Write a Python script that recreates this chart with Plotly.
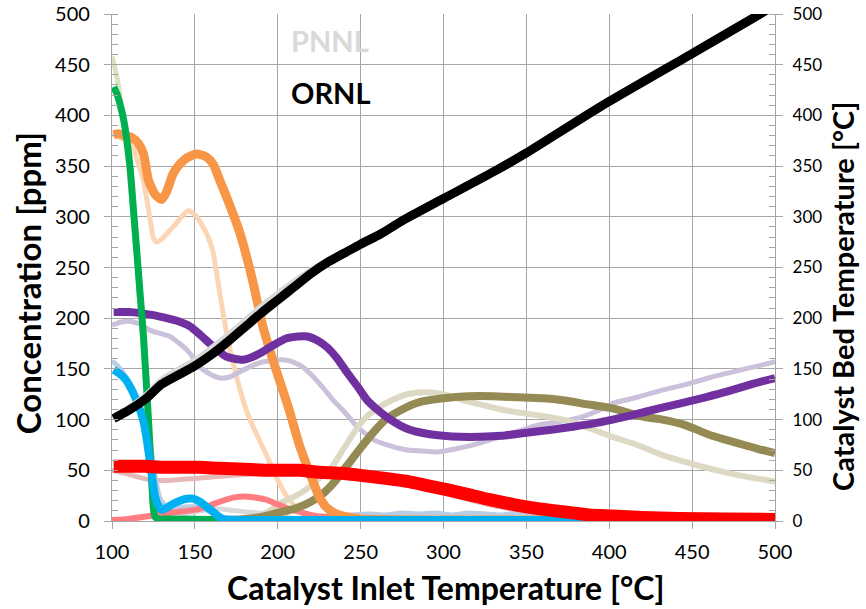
import plotly.graph_objects as go

# ---------------- data ----------------
# ORNL (thick) series
green_x = [101, 103, 105, 107, 109, 111, 113, 115, 117, 119, 120, 121, 122, 123, 124, 125, 126, 128, 135, 160, 200, 300, 400, 500]
green_y = [428, 421, 410, 396, 375, 347, 306, 265, 223, 182, 155, 128, 100, 70, 38, 12, 4, 2, 2, 1.5, 1, 1, 1, 1]

orange_x = [101, 104, 108, 112, 116, 119, 122, 126, 130, 133, 137, 141, 145, 151, 157, 161, 165, 169, 173, 177, 181, 185, 191, 199, 207, 213, 217, 221, 225, 229, 233, 237, 242, 250, 300, 400, 500]
orange_y = [381, 382, 380, 378, 372, 362, 336, 322, 317, 325, 343, 352, 358, 362, 359, 352, 336, 320, 303, 285, 262, 236, 192, 149, 109, 75, 57, 40, 24, 14, 9, 6, 4, 2, 1, 1, 1]

purple_x = [101, 110, 117, 125, 133, 140, 147, 153, 159, 164, 169, 174, 179, 185, 191, 198, 205, 212, 218, 224, 230, 236, 242, 248, 254, 260, 268, 278, 290, 300, 310, 322, 335, 350, 365, 378, 390, 402, 415, 430, 443, 458, 472, 486, 500]
purple_y = [206, 206, 205, 203, 200, 197, 192, 184, 175, 168, 162, 160, 159, 162, 167, 174, 180, 182, 182, 178, 171, 160, 146, 133, 119, 110, 100, 91, 86, 84, 83, 83, 84, 87, 90, 93, 96, 100, 105, 111, 116, 122, 128, 135, 141]

cyan_x = [101, 104, 108, 111, 114, 117, 119, 121, 123, 124.5, 126, 128, 130, 133, 137, 141, 145, 149, 153, 157, 161, 164, 167, 170, 180, 200, 300, 400, 500]
cyan_y = [149, 146, 140, 132, 122, 109, 98, 80, 57, 40, 24, 15, 11, 13, 17, 20, 22, 22, 19, 14, 9, 5, 2, 1.5, 1, 1, 1, 1, 1]

olive_x = [170, 180, 190, 200, 210, 220, 228, 235, 242, 250, 258, 265, 275, 285, 300, 315, 330, 345, 360, 372, 387, 402, 420, 432, 445, 462, 477, 490, 500]
olive_y = [1, 2, 4, 8, 12, 19, 28, 40, 55, 72, 88, 100, 110, 117, 121, 123, 123, 122, 121, 119, 115, 111, 103, 100, 95, 84, 77, 71, 67]

red_x = [101, 110, 120, 130, 140, 153, 165, 180, 195, 213, 225, 238, 250, 265, 278, 290, 302, 315, 328, 343, 358, 373, 388, 402, 420, 442, 470, 500]
red_y = [54, 54, 54, 53, 53, 53, 52, 51, 50, 50, 48, 47, 45, 42, 39, 35, 31, 26, 21, 16, 12, 9, 6, 5, 3.5, 2.5, 2, 1.5]

salmon_x = [100, 110, 123, 135, 145, 153, 160, 167, 173, 177, 182, 187, 193, 199, 205, 209, 215, 223, 230, 238, 250, 270, 300]
salmon_y = [1, 2, 5, 8, 10, 12, 16, 20, 23, 24, 24, 23, 21, 17, 13, 11, 8, 5, 4, 3, 2, 1, 1]

bed_x = [101, 110, 120, 130, 140, 150, 160, 170, 180, 190, 200, 210, 220, 230, 240, 250, 262, 275, 300, 332, 350, 394, 450, 491, 500]
bed_y = [101, 109, 120, 135, 144, 153, 164, 177, 191, 205, 218, 231, 244, 255, 264, 273, 283, 296, 318, 346, 363, 408, 461, 500, 509]

# PNNL (thin, light) series
lgreen_x = [100, 102, 104, 106, 108, 110, 112, 114, 116, 118, 120, 122, 124, 126, 130, 500]
lgreen_y = [458, 445, 428, 405, 380, 350, 315, 275, 232, 190, 145, 95, 45, 10, 1, 1]

peach_x = [100, 104, 108, 113, 116, 119, 121, 123, 125, 127, 130, 134, 138, 142, 146, 150, 155, 158, 161, 164, 167, 170, 174, 178, 182, 186, 190, 194, 198, 202, 206, 210, 214, 220, 230, 250, 300, 500]
peach_y = [382, 379, 375, 366, 352, 335, 317, 297, 279, 275, 278, 285, 292, 300, 306, 302, 290, 280, 265, 235, 205, 178, 150, 125, 105, 90, 76, 62, 47, 34, 23, 15, 9, 5, 2, 1, 1, 1]

lpurple_x = [100, 105, 111, 117, 123, 129, 135, 140, 145, 149, 153, 158, 165, 171, 177, 183, 189, 196, 203, 209, 215, 221, 227, 233, 240, 248, 258, 268, 278, 287, 296, 307, 318, 328, 338, 348, 358, 370, 382, 392, 402, 417, 432, 447, 462, 477, 490, 500]
lpurple_y = [193, 196, 197, 194, 188, 185, 182, 176, 169, 161, 152, 146, 141, 142, 147, 152, 156, 158, 159, 157, 152, 143, 132, 120, 108, 93, 80, 74, 70, 69, 68, 71, 75, 80, 85, 90, 95, 98, 102, 108, 116, 122, 129, 135, 142, 148, 153, 157]

lblue_x = [100, 104, 108, 112, 116, 120, 123, 126, 129, 133, 139, 145, 150, 155, 160, 165, 170, 180, 200, 220, 232, 238, 245, 255, 265, 275, 285, 295, 305, 315, 325, 335, 345, 355, 365, 375, 385, 395, 410, 430, 450, 470, 490, 500]
lblue_y = [158, 152, 143, 132, 118, 100, 78, 45, 22, 14, 13, 14, 14, 12, 9, 5, 2, 1, 1, 1, 2, 5, 6, 7, 6, 8, 7, 8, 6, 8, 7, 6, 8, 7, 6, 6, 5, 4, 3, 3, 3, 3, 3, 3]

lolive_x = [185, 195, 201, 210, 217, 225, 233, 240, 248, 255, 262, 270, 278, 288, 300, 312, 322, 332, 345, 358, 372, 387, 402, 417, 432, 442, 455, 470, 485, 500]
lolive_y = [3, 10, 17, 24, 31, 42, 54, 72, 92, 105, 113, 120, 125, 127, 125, 119, 115, 111, 107, 104, 100, 92, 83, 75, 65, 60, 54, 48, 43, 39]

lred_x = [100, 110, 119, 125, 133, 150, 173, 200, 230, 260, 290, 318, 340, 360, 380, 400, 420, 450, 500]
lred_y = [50, 46, 42, 40, 40, 42, 45, 47, 46, 40, 32, 20, 12, 7, 4, 3, 2.5, 2, 1]

grey_x = [140, 150, 157, 163, 170, 175, 181, 188, 197, 205, 212, 220, 230]
grey_y = [5, 9, 11, 12, 11, 10, 9, 8, 6, 4, 2, 1, 0.5]

lbed_x = [100, 110, 120, 130, 140, 150, 160, 170, 180, 190, 200, 210, 220, 230, 240, 250, 275, 300, 350, 400, 450, 491, 500]
lbed_y = [103, 112, 124, 140, 150, 159, 171, 184, 198, 212, 225, 237, 248, 257, 266, 274, 297, 319, 364, 414, 462, 501, 510]

x_ticks = [100, 150, 200, 250, 300, 350, 400, 450, 500]
y_ticks = [0, 50, 100, 150, 200, 250, 300, 350, 400, 450, 500]

# ---------------- figure ----------------
FONT = "Lato"
GRID = "#a6a6a6"

fig = go.Figure()


def add(x, y, color, width, yaxis="y", shape="spline"):
    fig.add_trace(go.Scatter(
        x=x, y=y, mode="lines", yaxis=yaxis, showlegend=False,
        line=dict(color=color, width=width, shape=shape, smoothing=0.6),
        hoverinfo="x+y"))


# PNNL thin lines first
add(lbed_x, lbed_y, "#d9d9d9", 5, "y2")
add(lgreen_x, lgreen_y, "#d7e4bd", 5)
add(peach_x, peach_y, "#fcd5b5", 5)
add(lpurple_x, lpurple_y, "#ccc1da", 5)
add(lolive_x, lolive_y, "#ddd9c4", 6)
add(lred_x, lred_y, "#e6b9b8", 5)
add(grey_x, grey_y, "#d9d9d9", 5)
add(lblue_x, lblue_y, "#b9cde5", 5)
add(salmon_x, salmon_y, "#ff7c80", 6)
# ORNL thick lines
add(olive_x, olive_y, "#948a54", 8)
add(orange_x, orange_y, "#f79646", 9)
add(purple_x, purple_y, "#7030a0", 8)
add(green_x, green_y, "#00b050", 7)
add(cyan_x, cyan_y, "#00b0f0", 8)
add(bed_x, bed_y, "#000000", 9, "y2")
add(red_x, red_y, "#ff0000", 13)

axis_common = dict(
    range=[0, 500], tickvals=y_ticks, showline=True, linecolor=GRID, linewidth=1.3,
    ticks="outside", ticklen=7, tickcolor=GRID, tickwidth=1.3,
    minor=dict(dtick=10, ticks="inside", ticklen=6, tickcolor=GRID, tickwidth=1, showgrid=False),
    zeroline=False, fixedrange=True, automargin=False,
)

fig.update_layout(
    width=866, height=609,
    margin=dict(l=112, r=91, t=14, b=88, autoexpand=False),
    paper_bgcolor="white", plot_bgcolor="white",
    font=dict(family=FONT, color="black"),
    xaxis=dict(
        range=[100, 500], tickvals=x_ticks, showgrid=True, gridcolor=GRID, gridwidth=1.3,
        showline=True, linecolor=GRID, linewidth=1.3, ticks="outside", ticklen=7,
        tickcolor=GRID, tickfont=dict(size=20, family=FONT), zeroline=False,
        automargin=False, ticklabelstandoff=6, fixedrange=True,
    ),
    yaxis=dict(showgrid=True, gridcolor=GRID, gridwidth=1.3, ticklabelstandoff=10,
               tickfont=dict(size=20, family=FONT), **axis_common),
    yaxis2=dict(overlaying="y", side="right", showgrid=False, ticklabelstandoff=6,
                tickfont=dict(size=17, family=FONT), **axis_common),
    annotations=[
        dict(text="<b>Concentration [ppm]</b>", xref="paper", yref="paper", x=-0.1267, y=0.469,
             textangle=-90, showarrow=False, font=dict(size=33, family=FONT),
             xanchor="center", yanchor="middle"),
        dict(text="<b>Catalyst Bed Temperature [°C]</b>", xref="paper", yref="paper", x=1.1026, y=0.442,
             textangle=-90, showarrow=False, font=dict(size=29, family=FONT),
             xanchor="center", yanchor="middle"),
        dict(text="<b>Catalyst Inlet Temperature [°C]</b>", xref="paper", yref="paper", x=0.504, y=-0.132,
             showarrow=False, font=dict(size=32, family=FONT), xanchor="center", yanchor="middle"),
        dict(text="<b>PNNL</b>", x=206.8, y=474, xref="x", yref="y", showarrow=False,
             font=dict(size=29, family=FONT, color="#d9d9d9"), xanchor="left", yanchor="middle"),
        dict(text="<b>ORNL</b>", x=206.8, y=423, xref="x", yref="y", showarrow=False,
             font=dict(size=29, family=FONT, color="black"), xanchor="left", yanchor="middle"),
    ],
)

fig.write_html("out.html")
